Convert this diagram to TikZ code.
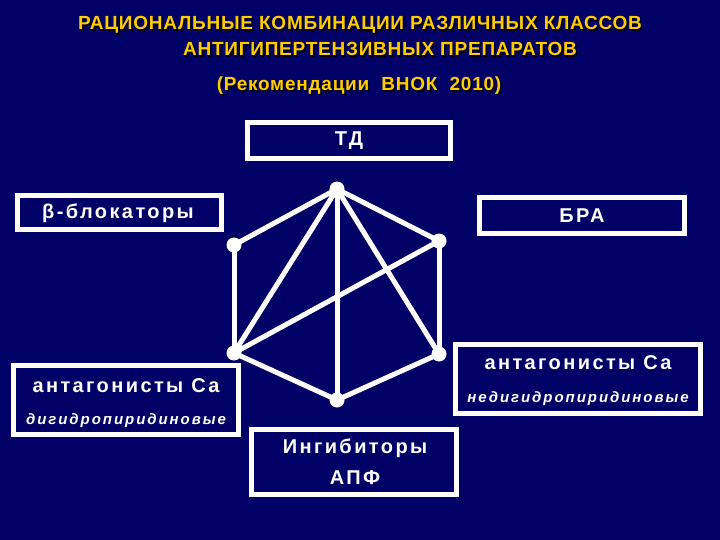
\documentclass[tikz,border=0pt]{standalone}
\usepackage{fontspec}
\setmainfont{Liberation Sans}
\newfontfamily\lblfont[LetterSpace=12]{Liberation Sans}
\newfontfamily\ttlfont[LetterSpace=4]{Liberation Sans}
\newfontfamily\subfont[LetterSpace=13]{Liberation Sans}
\definecolor{bg}{HTML}{000066}
\definecolor{ttl}{HTML}{FFCC00}
\begin{document}
\begin{tikzpicture}[x=1pt,y=-1pt,
  boxst/.style={draw=white,line width=5pt,rectangle,inner sep=0pt},
  lbl/.style={text=white,font=\lblfont\bfseries\fontsize{20}{22}\selectfont,inner sep=0pt,anchor=center},
  sub/.style={text=white,font=\subfont\bfseries\itshape\fontsize{15}{17}\selectfont,inner sep=0pt,anchor=center},
  ttlst/.style={font=\ttlfont\bfseries\fontsize{19}{21}\selectfont,inner sep=0pt,anchor=base},
  vtx/.style={circle,fill=white,minimum size=15pt,inner sep=0pt},
  edge/.style={white,line width=5pt}]
\fill[bg] (0,0) rectangle (720,540);
\useasboundingbox (0,0) rectangle (720,540);
% title
\foreach \dx/\dy/\c/\s in {1.5/1.5/black/s,0/0/ttl/m}{
\node[ttlst,text=\c] (t1\s) at (360+\dx,30+\dy) {РАЦИОНАЛЬНЫЕ КОМБИНАЦИИ РАЗЛИЧНЫХ КЛАССОВ};
\node[ttlst,text=\c] (t2\s) at (380+\dx,56+\dy) {АНТИГИПЕРТЕНЗИВНЫХ ПРЕПАРАТОВ};
\node[ttlst,text=\c] (t3\s) at (359+\dx,91+\dy) {(Рекомендации\ \ ВНОК\ \ 2010)};
}
% boxes
\node[boxst,minimum width=203pt,minimum height=36pt] (td) at (349,140.5) {};
\node[lbl] (tdt) at (349,141) {ТД};
\node[boxst,minimum width=204pt,minimum height=34pt] (bb) at (119.5,212.5) {};
\node[lbl] (bbt) at (118,213) {β-блокаторы};
\node[boxst,minimum width=205pt,minimum height=36pt] (bra) at (582,215.5) {};
\node[lbl] (brat) at (582,216) {БРА};
\node[boxst,minimum width=225pt,minimum height=69pt] (acl) at (126,400) {};
\node[lbl] (aclt) at (126,386) {антагонисты Са};
\node[sub] (acls) at (126,421) {дигидропиридиновые};
\node[boxst,minimum width=245pt,minimum height=69pt] (acr) at (578,379) {};
\node[lbl] (acrt) at (578,363) {антагонисты Са};
\node[sub] (acrs) at (578,399) {недигидропиридиновые};
\node[boxst,minimum width=205pt,minimum height=65pt] (ace) at (354,462) {};
\node[lbl] (acet) at (355,448) {Ингибиторы};
\node[lbl] (acet2) at (355,478) {АПФ};
% graph
\node[vtx] (vt) at (337,189) {};
\node[vtx] (vul) at (234,245) {};
\node[vtx] (vur) at (439,241) {};
\node[vtx] (vll) at (234,353) {};
\node[vtx] (vlr) at (439,354) {};
\node[vtx] (vb) at (337,400) {};
\draw[edge] (vt.center) -- (vul.center);
\draw[edge] (vt.center) -- (vur.center);
\draw[edge] (vul.center) -- (vll.center);
\draw[edge] (vur.center) -- (vlr.center);
\draw[edge] (vll.center) -- (vb.center);
\draw[edge] (vlr.center) -- (vb.center);
\draw[edge] (vt.center) -- (vb.center);
\draw[edge] (vt.center) -- (vll.center);
\draw[edge] (vt.center) -- (vlr.center);
\draw[edge] (vll.center) -- (vur.center);
\end{tikzpicture}
\end{document}
